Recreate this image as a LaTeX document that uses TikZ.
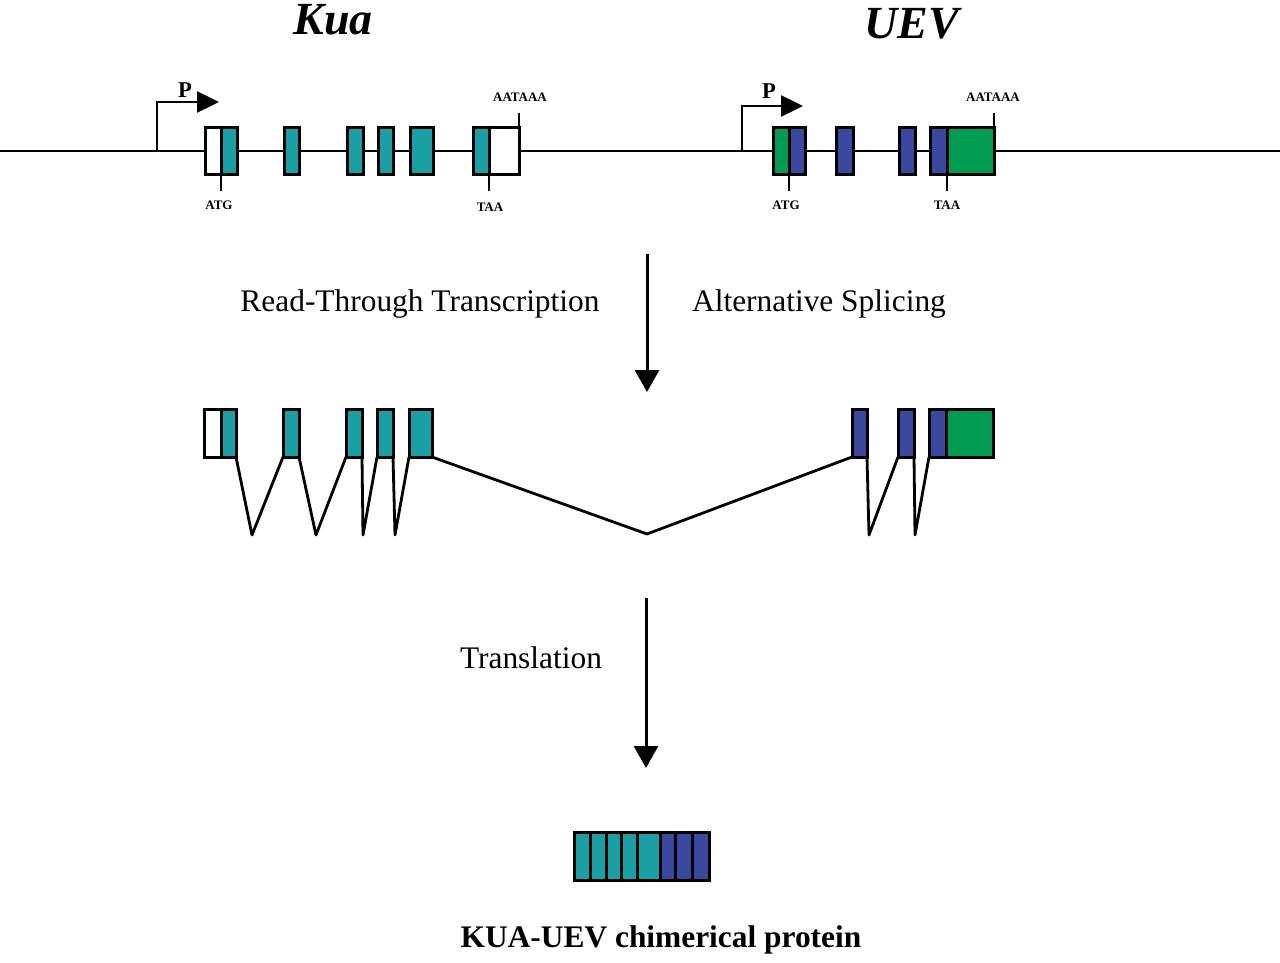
\documentclass[tikz,border=0pt]{standalone}
\usepackage{fontspec}
\setmainfont{Liberation Serif}
\usetikzlibrary{arrows.meta}
\definecolor{kuateal}{RGB}{24,160,164}
\definecolor{uevblue}{RGB}{58,72,160}
\definecolor{uevgreen}{RGB}{0,156,82}
\newcommand\mkexon[6]{\node[exon,fill=#6,minimum width={(#4-#2)*0.5pt},minimum height={(#5-#3)*0.5pt}] (#1) at ({(#2+#4)/2},{(#3+#5)/2}) {};}
\begin{document}
\begin{tikzpicture}[x=0.5pt,y=-0.5pt,
  exon/.style={draw=black,line width=1.5pt,inner sep=0pt,outer sep=0pt,rectangle},
  dna/.style={line width=1.2pt,black},
  splice/.style={line width=1.4pt,black,line join=round},
  tick/.style={line width=1.2pt,black},
  prom/.style={line width=1.2pt,black,-{Triangle[length=11pt,width=10.5pt]}},
  bigarrow/.style={line width=1.5pt,black,-{Triangle[length=11pt,width=12pt]}},
  title/.style={font=\fontsize{23}{26}\selectfont\bfseries\itshape,anchor=base,inner sep=0pt},
  label/.style={font=\fontsize{15.7}{18}\selectfont,anchor=base,inner sep=0pt},
  blabel/.style={font=\fontsize{15.7}{18}\selectfont\bfseries,anchor=base,inner sep=0pt},
  plabel/.style={font=\fontsize{11.3}{13}\selectfont\bfseries,anchor=base,inner sep=0pt},
  slabel/.style={font=\fontsize{6.5}{8}\selectfont\bfseries,anchor=base,inner sep=0pt}]
\path[use as bounding box,fill=white] (0,0) rectangle (1280,963);

% titles
\node[title] (tkua) at (333,35) {Kua};
\node[title] (tuev) at (912,39) {UEV};

% genomic line
\coordinate (gl) at (0,151);
\coordinate (gr) at (1280,151);
\draw[dna] (gl) -- (gr);

% promoters
\coordinate (pk0) at (157,151);
\coordinate (pk1) at (157,102);
\coordinate (pk2) at (219,102);
\draw[prom] (pk0) -- (pk1) -- (pk2);
\node[plabel] (pk) at (185,98) {P};
\coordinate (pu0) at (742,151);
\coordinate (pu1) at (742,106);
\coordinate (pu2) at (803,106);
\draw[prom] (pu0) -- (pu1) -- (pu2);
\node[plabel] (pu) at (769,99) {P};

% Kua gene exons
\mkexon{k1a}{205}{128}{221}{175}{white}
\mkexon{k1b}{221}{128}{237}{175}{kuateal}
\mkexon{k2}{284}{128}{299}{175}{kuateal}
\mkexon{k3}{347}{128}{363}{175}{kuateal}
\mkexon{k4}{378}{128}{393}{175}{kuateal}
\mkexon{k5}{410}{128}{433}{175}{kuateal}
\mkexon{k6a}{473}{128}{489}{175}{kuateal}
\mkexon{k6b}{489}{128}{519}{175}{white}

% UEV gene exons
\mkexon{u1a}{773}{128}{789}{175}{uevgreen}
\mkexon{u1b}{789}{128}{805}{175}{uevblue}
\mkexon{u2}{836}{128}{853}{175}{uevblue}
\mkexon{u3}{899}{128}{915}{175}{uevblue}
\mkexon{u4a}{930}{128}{947}{175}{uevblue}
\mkexon{u4b}{947}{128}{994}{175}{uevgreen}

% ticks and small labels
\coordinate (tk1) at (221,191);
\draw[tick] (k1b.south west) -- (tk1);
\node[slabel] (atgk) at (219,209) {ATG};
\coordinate (tk2) at (489,191);
\draw[tick] (k6b.south west) -- (tk2);
\node[slabel] (taak) at (490,212) {TAA};
\coordinate (tk3) at (519,113);
\draw[tick] (k6b.north east) -- (tk3);
\node[slabel] (polyk) at (520,102) {AATAAA};

\coordinate (tu1) at (789,191);
\draw[tick] (u1b.south west) -- (tu1);
\node[slabel] (atgu) at (786,209) {ATG};
\coordinate (tu2) at (947,191);
\draw[tick] (u4b.south west) -- (tu2);
\node[slabel] (taau) at (947,209) {TAA};
\coordinate (tu3) at (994,113);
\draw[tick] (u4b.north east) -- (tu3);
\node[slabel] (polyu) at (993,102) {AATAAA};

% first arrow and labels
\coordinate (a1s) at (647,254);
\coordinate (a1e) at (647,392);
\draw[bigarrow] (a1s) -- (a1e);
\node[label] (rtt) at (420,311) {Read-Through Transcription};
\node[label] (alts) at (819,311) {Alternative Splicing};

% spliced transcript exons
\mkexon{m1a}{204}{409}{221}{457}{white}
\mkexon{m1b}{221}{409}{236}{457}{kuateal}
\mkexon{m2}{283}{409}{299}{457}{kuateal}
\mkexon{m3}{346}{409}{362}{457}{kuateal}
\mkexon{m4}{377}{409}{393}{457}{kuateal}
\mkexon{m5}{409}{409}{432}{457}{kuateal}
\mkexon{n2}{852}{409}{867}{457}{uevblue}
\mkexon{n3}{898}{409}{914}{457}{uevblue}
\mkexon{n4a}{929}{409}{946}{457}{uevblue}
\mkexon{n4b}{946}{409}{993}{457}{uevgreen}

% splice connectors
\coordinate (v1) at (252,535);
\coordinate (v2) at (316,535);
\coordinate (v3) at (363,535);
\coordinate (v4) at (395,535);
\coordinate (v5) at (647,534);
\coordinate (v6) at (869,535);
\coordinate (v7) at (915,535);
\draw[splice] (m1b.south east) -- (v1) -- (m2.south west);
\draw[splice] (m2.south east) -- (v2) -- (m3.south west);
\draw[splice] (m3.south east) -- (v3) -- (m4.south west);
\draw[splice] (m4.south east) -- (v4) -- (m5.south west);
\draw[splice] (m5.south east) -- (v5) -- (n2.south west);
\draw[splice] (n2.south east) -- (v6) -- (n3.south west);
\draw[splice] (n3.south east) -- (v7) -- (n4a.south west);

% second arrow
\coordinate (a2s) at (646,598);
\coordinate (a2e) at (646,768);
\draw[bigarrow] (a2s) -- (a2e);
\node[label] (trl) at (531,668) {Translation};

% protein
\mkexon{p1}{574}{832}{590}{880}{kuateal}
\mkexon{p2}{590}{832}{606}{880}{kuateal}
\mkexon{p3}{606}{832}{621}{880}{kuateal}
\mkexon{p4}{621}{832}{637}{880}{kuateal}
\mkexon{p5}{637}{832}{660}{880}{kuateal}
\mkexon{p6}{660}{832}{675}{880}{uevblue}
\mkexon{p7}{675}{832}{692}{880}{uevblue}
\mkexon{p8}{692}{832}{709}{880}{uevblue}

\node[blabel] (prot) at (661,947) {KUA-UEV chimerical protein};
\end{tikzpicture}
\end{document}
